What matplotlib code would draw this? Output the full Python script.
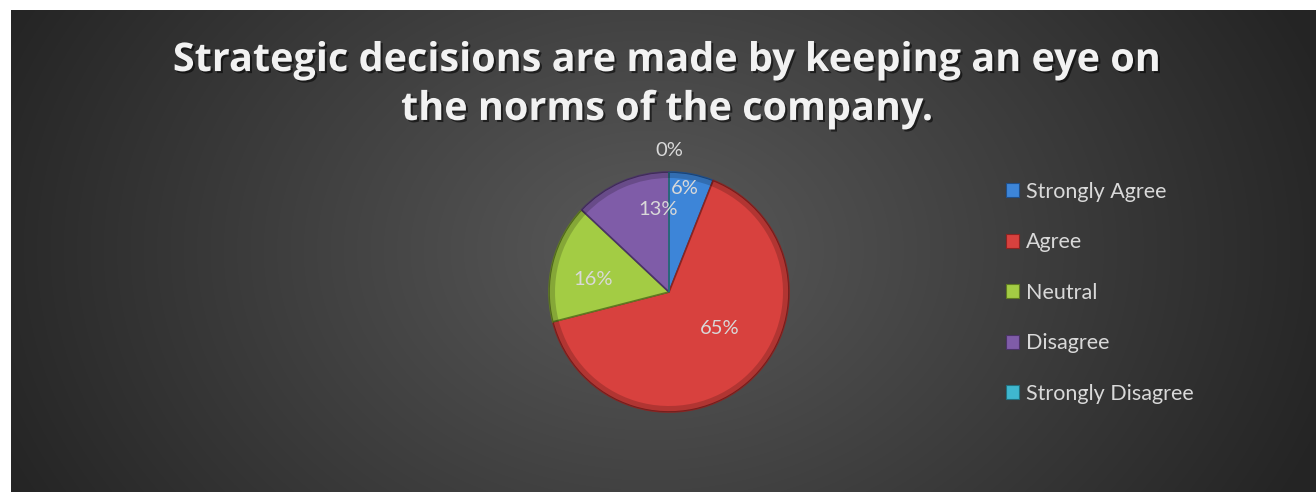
import numpy as np
import matplotlib.pyplot as plt
import matplotlib.patheffects as pe
from matplotlib.patches import Patch

# survey answers (percent)
labels = ["Strongly Agree", "Agree", "Neutral", "Disagree", "Strongly Disagree"]
values = [6, 65, 16, 13, 0]
colors = ["#3d85d8", "#d8413e", "#a3cc44", "#7f5ca8", "#3fb7cf"]
edge_colors = ["#1f4f8a", "#8a2422", "#5f7a22", "#4a3366", "#22707f"]
title = "Strategic decisions are made by keeping an eye on\nthe norms of the company."

# where each percentage sits: radial distance and angle shift (deg) from wedge middle
lbl_dist = [0.87, 0.52, 0.64, 0.69, 1.18]
lbl_shift = [2.0, 13.0, 5.0, -16.0, 0.0]

W, H = 1316, 492
fig = plt.figure(figsize=(W / 100, H / 100), dpi=100, facecolor="white")

# dark radial backdrop, leaves a white strip on top and left
px0, py0 = 11, 10
bg = fig.add_axes([px0 / W, 0, 1 - px0 / W, 1 - py0 / H])
yy, xx = np.mgrid[py0:H, px0:W]
d = np.hypot((xx - 650) / 1.0, (yy - 250) / 0.75)
t = np.clip(d / 720, 0, 1) ** 1.0
shade = (0x5a - (0x5a - 0x24) * t) / 255
bg.imshow(np.dstack([shade] * 3), aspect="auto", interpolation="bilinear")
bg.axis("off")

fig.text(0.507, 1 - 85 / H, title, ha="center", va="center", fontsize=28.5,
         fontweight="bold", family="Open Sans", color="#f2f2f2", linespacing=1.33,
         path_effects=[pe.withSimplePatchShadow(offset=(1.5, -1.5), shadow_rgbFace="black", alpha=0.55)])

# pie
cx, cy, r = 669, 292, 120
box = 135
ax = fig.add_axes([(cx - box) / W, (H - cy - box) / H, 2 * box / W, 2 * box / H])
wedges, _ = ax.pie(values, colors=colors, startangle=90, counterclock=False, radius=1,
                   wedgeprops=dict(linewidth=1.2))
for w, ec in zip(wedges, edge_colors):
    w.set_edgecolor(ec)
# soft darker rim for a bevelled look
ax.pie(values, colors=["black"] * len(values), startangle=90, counterclock=False, radius=1,
       wedgeprops=dict(width=0.05, alpha=0.18, linewidth=0))
lim = box / r
ax.set_xlim(-lim, lim)
ax.set_ylim(-lim, lim)
ax.set_aspect("equal")
ax.axis("off")

for w, v, dist, sh in zip(wedges, values, lbl_dist, lbl_shift):
    mid = np.deg2rad((w.theta1 + w.theta2) / 2 + sh)
    ax.text(dist * np.cos(mid), dist * np.sin(mid), f"{v}%", ha="center", va="center",
            fontsize=14.5, family="Lato", color="#d9d9d9")

handles = [Patch(facecolor=c, edgecolor=e, linewidth=0.8) for c, e in zip(colors, edge_colors)]
fig.legend(handles, labels, loc="upper left", bbox_to_anchor=(995 / W, 1 - 171 / H),
           frameon=False, prop=dict(family="Lato", size=15.5), labelcolor="#d9d9d9",
           handlelength=0.62, handleheight=0.62, handletextpad=0.3, labelspacing=1.42,
           borderpad=0)

fig.savefig("out.png", dpi=100, facecolor="white")
